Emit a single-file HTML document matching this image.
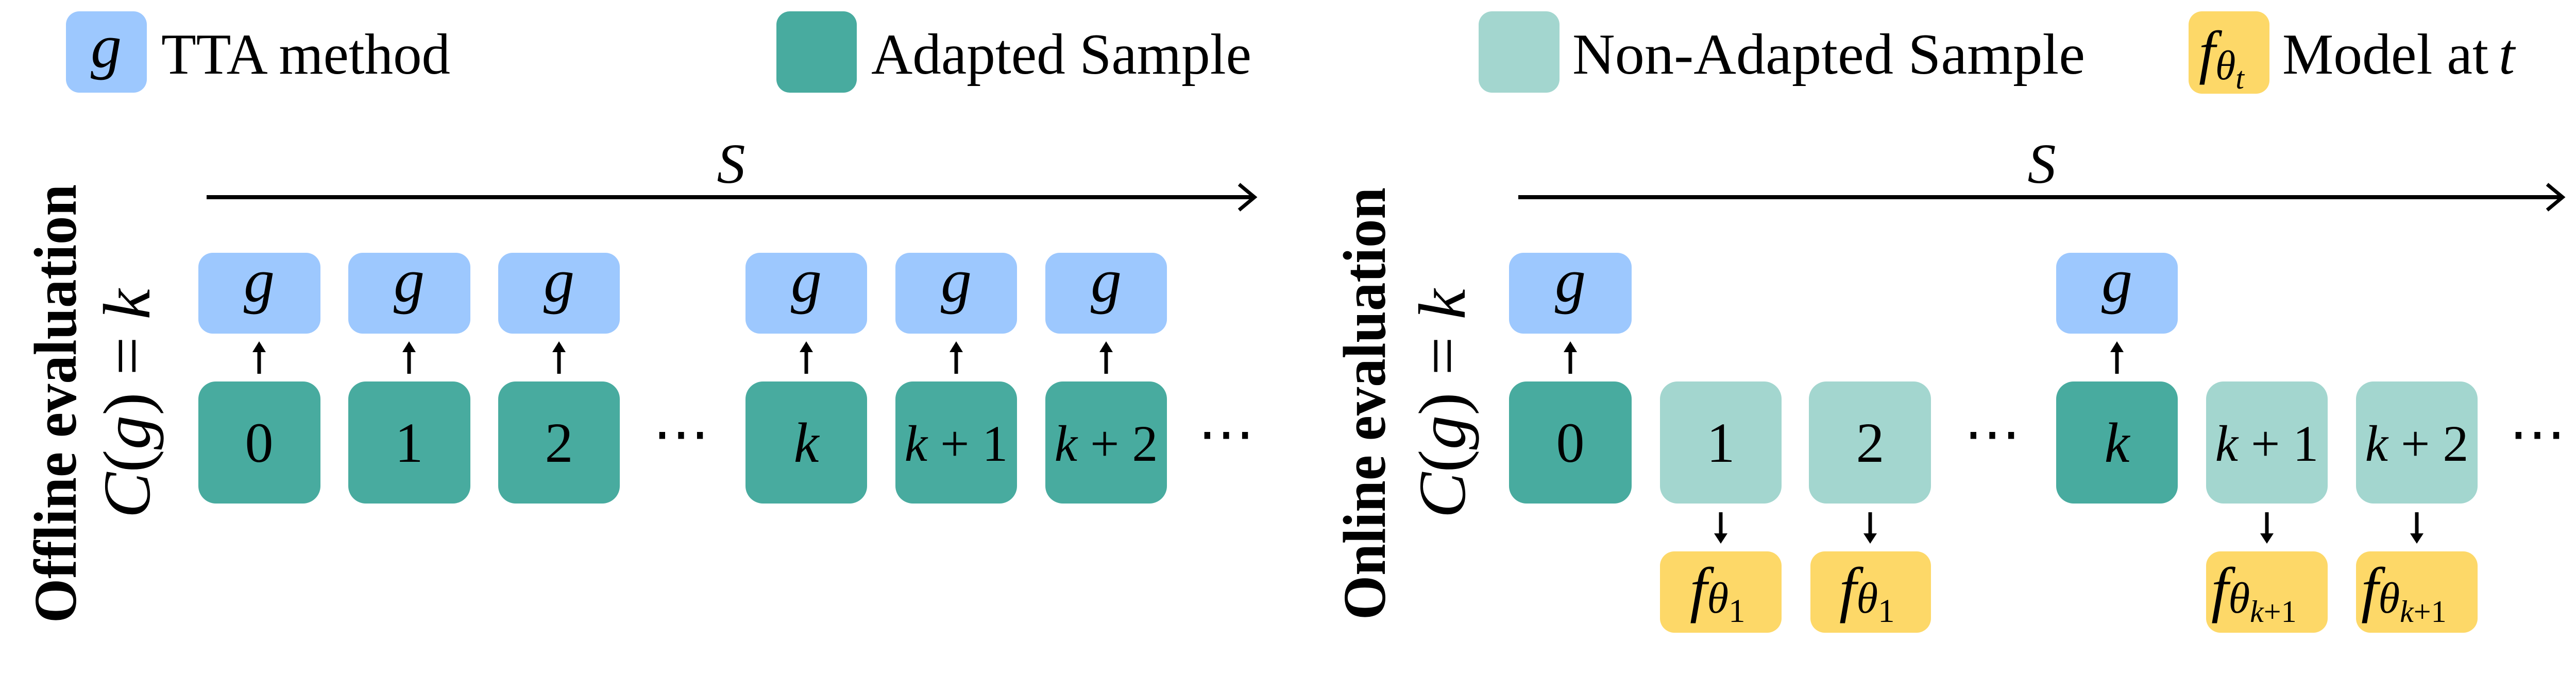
<!DOCTYPE html>
<html><head><meta charset="utf-8"><style>
html,body{margin:0;padding:0;background:#fff;}
svg{display:block;}
text{font-family:"Liberation Serif",serif;}
.m{font-style:italic;}
</style></head><body>
<svg width="5009" height="1348" viewBox="0 0 5009 1348" xmlns="http://www.w3.org/2000/svg">
<defs>
<marker id="ah" markerWidth="6" markerHeight="6" refX="3" refY="3" orient="auto" markerUnits="userSpaceOnUse" viewBox="0 0 6 6"></marker>
</defs>
<!-- Legend -->
<rect x="128" y="22" width="157" height="158" rx="26" fill="#9DC8FE"/>
<text x="206" y="130" font-size="120" class="m" text-anchor="middle">g</text>
<text x="313" y="143" font-size="112" textLength="561" lengthAdjust="spacingAndGlyphs">TTA method</text>
<rect x="1507" y="22" width="156" height="158" rx="26" fill="#48AB9F"/>
<text x="1691" y="143" font-size="112" textLength="738" lengthAdjust="spacingAndGlyphs">Adapted Sample</text>
<rect x="2870" y="22" width="157" height="158" rx="26" fill="#A3D6CF"/>
<text x="3052" y="143" font-size="112" textLength="995" lengthAdjust="spacingAndGlyphs">Non-Adapted  Sample</text>
<rect x="4248" y="22" width="157" height="160" rx="26" fill="#FDD868"/>
<text x="4268" y="140" font-size="115" class="m">f<tspan font-size="80" dy="14">θ</tspan><tspan font-size="60" dy="18">t</tspan></text>
<text x="4430" y="143" font-size="112" textLength="400" lengthAdjust="spacingAndGlyphs">Model at </text>
<text x="4850" y="143" font-size="112" class="m">t</text>

<!-- Left axis -->
<line x1="401" y1="383" x2="2432" y2="383" stroke="#000" stroke-width="8"/>
<polyline points="2405,358 2435,383 2405,408" fill="none" stroke="#000" stroke-width="7"/>
<text x="1419" y="355" font-size="110" class="m" text-anchor="middle">S</text>
<!-- Right axis -->
<line x1="2947" y1="383" x2="4971" y2="383" stroke="#000" stroke-width="8"/>
<polyline points="4944,358 4974,383 4944,408" fill="none" stroke="#000" stroke-width="7"/>
<text x="3963" y="355" font-size="110" class="m" text-anchor="middle">S</text>

<!-- Rotated labels -->
<text transform="translate(147,784) rotate(-90)" font-size="118" font-weight="bold" text-anchor="middle" textLength="852" lengthAdjust="spacingAndGlyphs">Offline evaluation</text>
<text transform="translate(290,784) rotate(-90)" font-size="130" text-anchor="middle" textLength="445" lengthAdjust="spacingAndGlyphs"><tspan class="m">C</tspan>(<tspan class="m">g</tspan>) = <tspan class="m">k</tspan></text>
<text transform="translate(2688,784) rotate(-90)" font-size="118" font-weight="bold" text-anchor="middle" textLength="840" lengthAdjust="spacingAndGlyphs">Online evaluation</text>
<text transform="translate(2843,784) rotate(-90)" font-size="130" text-anchor="middle" textLength="445" lengthAdjust="spacingAndGlyphs"><tspan class="m">C</tspan>(<tspan class="m">g</tspan>) = <tspan class="m">k</tspan></text>

<!-- Left boxes -->
<g>
<rect x="385" y="491" width="237" height="157" rx="28" fill="#9DC8FE"/>
<rect x="676" y="491" width="237" height="157" rx="28" fill="#9DC8FE"/>
<rect x="967" y="491" width="236" height="157" rx="28" fill="#9DC8FE"/>
<rect x="1447" y="491" width="236" height="157" rx="28" fill="#9DC8FE"/>
<rect x="1738" y="491" width="236" height="157" rx="28" fill="#9DC8FE"/>
<rect x="2029" y="491" width="236" height="157" rx="28" fill="#9DC8FE"/>
<g font-size="120" class="m" text-anchor="middle">
<text x="503" y="585">g</text><text x="794" y="585">g</text><text x="1085" y="585">g</text>
<text x="1565" y="585">g</text><text x="1856" y="585">g</text><text x="2147" y="585">g</text>
</g>
<rect x="385" y="741" width="237" height="237" rx="34" fill="#48AB9F"/>
<rect x="676" y="741" width="237" height="237" rx="34" fill="#48AB9F"/>
<rect x="967" y="741" width="236" height="237" rx="34" fill="#48AB9F"/>
<rect x="1447" y="741" width="236" height="237" rx="34" fill="#48AB9F"/>
<rect x="1738" y="741" width="236" height="237" rx="34" fill="#48AB9F"/>
<rect x="2029" y="741" width="236" height="237" rx="34" fill="#48AB9F"/>
<g font-size="110" text-anchor="middle">
<text x="503" y="897">0</text><text x="794" y="897">1</text><text x="1085" y="897">2</text>
<text x="1565" y="897" class="m">k</text>
<text x="1856" y="895" font-size="100"><tspan class="m">k</tspan> + 1</text>
<text x="2147" y="895" font-size="100"><tspan class="m">k</tspan> + 2</text>
<text x="1322" y="880">⋯</text><text x="2380" y="880">⋯</text>
</g>
<!-- up arrows -->
<g stroke="#000" stroke-width="7" fill="#000">
<line x1="503" y1="726" x2="503" y2="680"/><polygon points="490,684 516,684 503,663" stroke="none"/>
<line x1="794" y1="726" x2="794" y2="680"/><polygon points="781,684 807,684 794,663" stroke="none"/>
<line x1="1085" y1="726" x2="1085" y2="680"/><polygon points="1072,684 1098,684 1085,663" stroke="none"/>
<line x1="1565" y1="726" x2="1565" y2="680"/><polygon points="1552,684 1578,684 1565,663" stroke="none"/>
<line x1="1856" y1="726" x2="1856" y2="680"/><polygon points="1843,684 1869,684 1856,663" stroke="none"/>
<line x1="2147" y1="726" x2="2147" y2="680"/><polygon points="2134,684 2160,684 2147,663" stroke="none"/>
</g>
</g>

<!-- Right boxes -->
<g>
<rect x="2929" y="491" width="238" height="157" rx="28" fill="#9DC8FE"/>
<rect x="3991" y="491" width="236" height="157" rx="28" fill="#9DC8FE"/>
<g font-size="120" class="m" text-anchor="middle">
<text x="3048" y="585">g</text><text x="4109" y="585">g</text>
</g>
<rect x="2929" y="741" width="238" height="237" rx="34" fill="#48AB9F"/>
<rect x="3222" y="741" width="236" height="237" rx="34" fill="#A3D6CF"/>
<rect x="3511" y="741" width="237" height="237" rx="34" fill="#A3D6CF"/>
<rect x="3991" y="741" width="236" height="237" rx="34" fill="#48AB9F"/>
<rect x="4282" y="741" width="236" height="237" rx="34" fill="#A3D6CF"/>
<rect x="4573" y="741" width="236" height="237" rx="34" fill="#A3D6CF"/>
<g font-size="110" text-anchor="middle">
<text x="3048" y="897">0</text><text x="3340" y="897">1</text><text x="3630" y="897">2</text>
<text x="4109" y="897" class="m">k</text>
<text x="4400" y="895" font-size="100"><tspan class="m">k</tspan> + 1</text>
<text x="4691" y="895" font-size="100"><tspan class="m">k</tspan> + 2</text>
<text x="3867" y="880">⋯</text><text x="4925" y="880">⋯</text>
</g>
<g stroke="#000" stroke-width="7" fill="#000">
<line x1="3048" y1="726" x2="3048" y2="680"/><polygon points="3035,684 3061,684 3048,663" stroke="none"/>
<line x1="4109" y1="726" x2="4109" y2="680"/><polygon points="4096,684 4122,684 4109,663" stroke="none"/>
<line x1="3340" y1="995" x2="3340" y2="1040"/><polygon points="3327,1036 3353,1036 3340,1056" stroke="none"/>
<line x1="3630" y1="995" x2="3630" y2="1040"/><polygon points="3617,1036 3643,1036 3630,1056" stroke="none"/>
<line x1="4400" y1="995" x2="4400" y2="1040"/><polygon points="4387,1036 4413,1036 4400,1056" stroke="none"/>
<line x1="4691" y1="995" x2="4691" y2="1040"/><polygon points="4678,1036 4704,1036 4691,1056" stroke="none"/>
</g>
<rect x="3222" y="1071" width="236" height="158" rx="28" fill="#FDD868"/>
<rect x="3514" y="1071" width="234" height="158" rx="28" fill="#FDD868"/>
<rect x="4282" y="1071" width="236" height="158" rx="28" fill="#FDD868"/>
<rect x="4573" y="1071" width="236" height="158" rx="28" fill="#FDD868"/>
<g class="m">
<text x="3280" y="1185" font-size="120">f<tspan font-size="85" dy="5">θ</tspan><tspan font-size="65" dy="18" font-style="normal">1</tspan></text>
<text x="3570" y="1185" font-size="120">f<tspan font-size="85" dy="5">θ</tspan><tspan font-size="65" dy="18" font-style="normal">1</tspan></text>
<text x="4292" y="1185" font-size="120">f<tspan font-size="85" dy="5">θ</tspan><tspan font-size="60" dy="18">k</tspan><tspan font-size="60" font-style="normal">+1</tspan></text>
<text x="4583" y="1185" font-size="120">f<tspan font-size="85" dy="5">θ</tspan><tspan font-size="60" dy="18">k</tspan><tspan font-size="60" font-style="normal">+1</tspan></text>
</g>
</g>
</svg>
</body></html>
